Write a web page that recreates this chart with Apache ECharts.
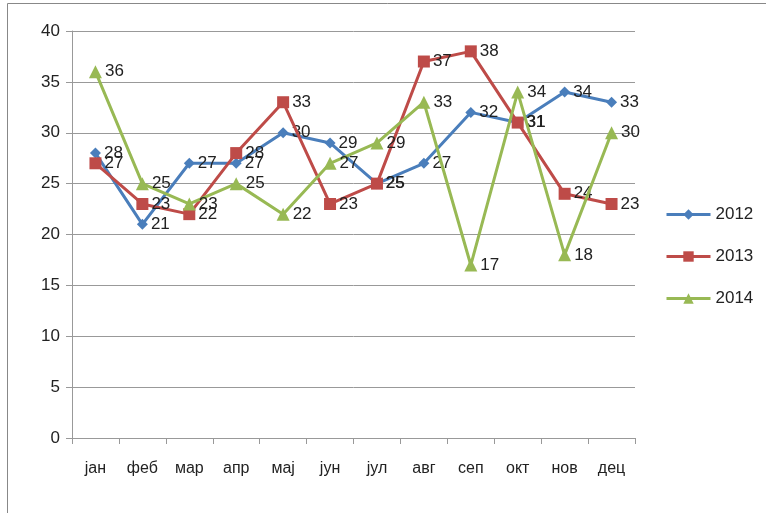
<!DOCTYPE html>
<html>
<head>
<meta charset="utf-8">
<script src="https://cdn.jsdelivr.net/npm/echarts@6/dist/echarts.min.js"></script>
<style>
  html, body { margin: 0; padding: 0; background: #fff; }
  #chart { width: 766px; height: 513px; }
</style>
</head>
<body>
<div id="chart"></div>
<script>
// месеци и вредности по години
const months = ['јан', 'феб', 'мар', 'апр', 'мај', 'јун', 'јул', 'авг', 'сеп', 'окт', 'нов', 'дец']
const years = ['2012', '2013', '2014']
const values2012 = [28, 21, 27, 27, 30, 29, 25, 27, 32, 31, 34, 33]
const values2013 = [27, 23, 22, 28, 33, 23, 25, 37, 38, 31, 24, 23]
const values2014 = [36, 25, 23, 25, 22, 27, 29, 33, 17, 34, 18, 30]

const font = '"Liberation Sans", "Noto Sans", sans-serif'
const colors = ['#4A7EBB', '#BE4B48', '#98B954']
const symbols = ['diamond', 'rect', 'triangle']
const sizes = [11, 12, 13]
const data = [values2012, values2013, values2014]

const chart = echarts.init(document.getElementById('chart'))

const series = years.map((name, i) => ({
  name,
  type: 'line',
  data: data[i],
  symbol: symbols[i],
  symbolSize: sizes[i],
  lineStyle: { width: 3, color: colors[i] },
  itemStyle: { color: colors[i] },
  label: {
    show: true,
    position: 'right',
    distance: 3,
    color: '#222',
    fontFamily: font,
    fontSize: 17,
  },
  z: 2 + i,
}))

chart.setOption({
  animation: false,
  graphic: [{
    type: 'rect',
    shape: { x: 7.5, y: 3.5, width: 800, height: 520 },
    style: { fill: 'none', stroke: '#888', lineWidth: 1 },
    silent: true,
  }],
  legend: {
    orient: 'vertical',
    left: 665,
    top: 206,
    padding: 0,
    itemGap: 25,
    itemWidth: 44,
    itemHeight: 13,
    lineStyle: { width: 3 },
    textStyle: { fontFamily: font, fontSize: 17, color: '#222' },
    data: years,
  },
  grid: { left: 72, top: 31, width: 563, height: 407 },
  xAxis: {
    type: 'category',
    data: months,
    boundaryGap: true,
    axisLine: { lineStyle: { color: '#999', width: 1 } },
    axisTick: { show: true, length: 6, alignWithLabel: false, lineStyle: { color: '#999' } },
    axisLabel: { color: '#222', fontFamily: font, fontSize: 16, margin: 23 },
  },
  yAxis: {
    type: 'value',
    min: 0,
    max: 40,
    interval: 5,
    axisLine: { show: true, lineStyle: { color: '#999' } },
    axisTick: { show: true, length: 6, lineStyle: { color: '#999' } },
    axisLabel: { color: '#222', fontFamily: font, fontSize: 17, margin: 12 },
    splitLine: { lineStyle: { color: '#999', width: 1 } },
  },
  series,
})
</script>
</body>
</html>
